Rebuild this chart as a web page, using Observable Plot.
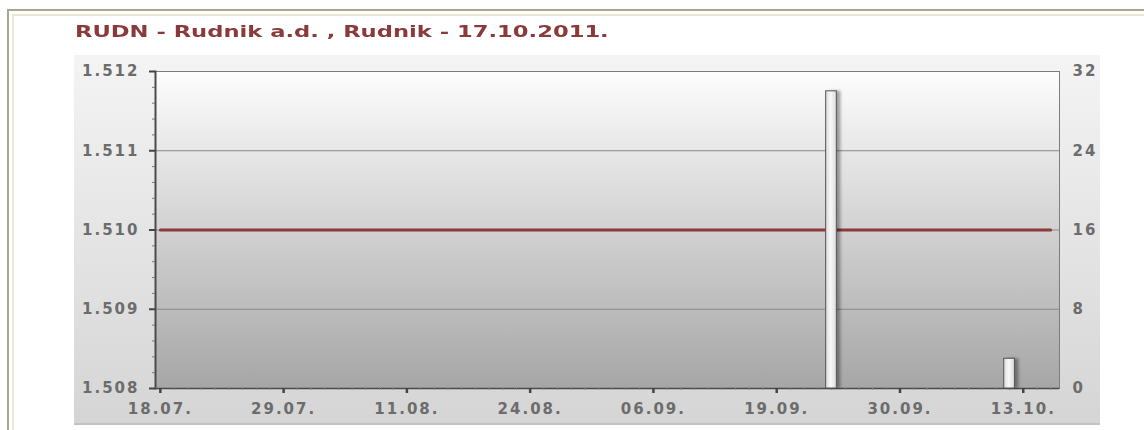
<!DOCTYPE html>
<html><head><meta charset="utf-8">
<script src="https://cdn.jsdelivr.net/npm/d3@7"></script>
<script src="https://cdn.jsdelivr.net/npm/@observablehq/plot@0.6"></script>
<style>
body{margin:0;background:#fff;}
#wrap{position:relative;width:1144px;height:430px;overflow:hidden;background:#fff;font-family:"DejaVu Sans",sans-serif;}
.b1{position:absolute;background:#aaa690;}
.b2{position:absolute;background:#ebe7d5;}
#panel{position:absolute;left:74px;top:55px;width:1026px;height:368px;background:linear-gradient(#f4f4f4,#d5d5d5);border-bottom:2px solid #c2c2c2;}
#title{position:absolute;left:75px;top:25px;font:bold 15px "DejaVu Sans";line-height:15px;color:#8a3a3a;white-space:nowrap;transform-origin:left center;}
#wrap svg{position:absolute;left:0;top:0;}
#wrap svg text{letter-spacing:2px;}
</style></head>
<body>
<div id="wrap">
  <div class="b1" style="left:7px;top:9px;width:2px;height:421px"></div>
  <div class="b1" style="left:7px;top:9px;width:1137px;height:2px"></div>
  <div class="b2" style="left:12px;top:14px;width:2px;height:416px"></div>
  <div class="b2" style="left:12px;top:14px;width:1132px;height:2px"></div>
  <div id="panel"></div>
  <div id="title"></div>
</div>
<script>
const titleText = "RUDN - Rudnik a.d. , Rudnik - 17.10.2011.";
const tradingDays = [
  "18.07.","19.07.","20.07.","21.07.","22.07.","25.07.","26.07.","27.07.","28.07.","29.07.",
  "01.08.","02.08.","03.08.","04.08.","05.08.","08.08.","09.08.","10.08.","11.08.","12.08.",
  "15.08.","16.08.","17.08.","18.08.","19.08.","22.08.","23.08.","24.08.","25.08.","26.08.",
  "29.08.","30.08.","31.08.","01.09.","02.09.","05.09.","06.09.","07.09.","08.09.","09.09.",
  "12.09.","13.09.","14.09.","15.09.","16.09.","19.09.","20.09.","21.09.","22.09.","23.09.",
  "26.09.","27.09.","28.09.","29.09.","30.09.","03.10.","04.10.","05.10.","06.10.","07.10.",
  "10.10.","11.10.","12.10.","13.10.","14.10.","17.10."
];
const prices = [
  1.510,1.510,1.510,1.510,1.510,1.510,1.510,1.510,1.510,1.510,
  1.510,1.510,1.510,1.510,1.510,1.510,1.510,1.510,1.510,1.510,
  1.510,1.510,1.510,1.510,1.510,1.510,1.510,1.510,1.510,1.510,
  1.510,1.510,1.510,1.510,1.510,1.510,1.510,1.510,1.510,1.510,
  1.510,1.510,1.510,1.510,1.510,1.510,1.510,1.510,1.510,1.510,
  1.510,1.510,1.510,1.510,1.510,1.510,1.510,1.510,1.510,1.510,
  1.510,1.510,1.510,1.510,1.510,1.510
];
const volumeDates = ["23.09.","12.10."];
const volumes = [30, 3];
const xTickLabels = ["18.07.","29.07.","11.08.","24.08.","06.09.","19.09.","30.09.","13.10."];
const priceTicks = [1.508,1.509,1.510,1.511,1.512];
const priceMinorTicks = [1.5082,1.5084,1.5086,1.5088,1.5092,1.5094,1.5096,1.5098,1.5102,1.5104,1.5106,1.5108,1.5112,1.5114,1.5116,1.5118];
const volumeTicks = [0,8,16,24,32];

const W = 1144, H = 430;
const dims = {width: W, height: H, marginLeft: 155, marginRight: 85, marginTop: 71, marginBottom: 42};
const xScale = {type: "band", domain: tradingDays, padding: 0, insetLeft: -2, insetRight: 2, axis: null};
const labelStyle = {fontSize: 15, fontWeight: "bold", fill: "#6c6c6c", fontFamily: "DejaVu Sans"};

document.getElementById("title").textContent = titleText;

const priceChart = Plot.plot({
  ...dims,
  style: {background: "transparent", fontFamily: "DejaVu Sans", overflow: "visible"},
  x: xScale,
  y: {domain: [1.508, 1.512], axis: null},
  marks: [
    Plot.frame({fill: "url(#plotBg)", stroke: "#7d7d7d"}),
    Plot.gridY(priceTicks.slice(1, -1), {stroke: "#888", strokeOpacity: 1}),
    Plot.lineY(prices, {x: tradingDays, y: prices, stroke: "#8b3a3a", strokeWidth: 3}),
    Plot.ruleY([1.508], {stroke: "#4a4a4a", strokeWidth: 1.5}),
    Plot.frame({anchor: "left", stroke: "#4a4a4a", strokeWidth: 2}),
    Plot.axisY(priceMinorTicks, {anchor: "left", tickSize: 3, stroke: "#777", tickFormat: () => ""}),
    Plot.axisY(priceTicks, {anchor: "left", tickSize: 6, tickPadding: 10, stroke: "#444", strokeWidth: 2,
      tickFormat: d3.format(".3f"), ...labelStyle}),
    Plot.axisX(tradingDays, {anchor: "bottom", tickSize: 2, stroke: "#888", tickFormat: () => ""}),
    Plot.axisX(xTickLabels, {anchor: "bottom", tickSize: 5, tickPadding: 10, stroke: "#444", strokeWidth: 2.5, ...labelStyle})
  ]
});

const volumeChart = Plot.plot({
  ...dims,
  style: {background: "transparent", fontFamily: "DejaVu Sans", overflow: "visible"},
  x: xScale,
  y: {domain: [0, 32], axis: null},
  marks: [
    Plot.barY(volumes, {x: volumeDates, y: volumes, fill: "#000", fillOpacity: 0.35, dx: 4, insetLeft: 1.5, insetRight: 1.5}),
    Plot.barY(volumes, {x: volumeDates, y: volumes, fill: "url(#barGrad)", stroke: "#555", strokeWidth: 1, insetLeft: 1.5, insetRight: 1.5}),
    Plot.axisY(volumeTicks, {anchor: "right", tickSize: 0, tickPadding: 13, ...labelStyle})
  ]
});

const wrap = document.getElementById("wrap");
wrap.appendChild(priceChart);
wrap.appendChild(volumeChart);

const defs1 = d3.select(priceChart).insert("defs", ":first-child");
const g1 = defs1.append("linearGradient").attr("id", "plotBg").attr("x1", 0).attr("x2", 0).attr("y1", 0).attr("y2", 1);
g1.append("stop").attr("offset", "0%").attr("stop-color", "#fdfdfd");
g1.append("stop").attr("offset", "100%").attr("stop-color", "#a6a6a6");

const defs2 = d3.select(volumeChart).insert("defs", ":first-child");
const g2 = defs2.append("linearGradient").attr("id", "barGrad").attr("x1", 0).attr("x2", 1).attr("y1", 0).attr("y2", 0);
g2.append("stop").attr("offset", "0%").attr("stop-color", "#d8d8d8");
g2.append("stop").attr("offset", "45%").attr("stop-color", "#f8f8f8");
g2.append("stop").attr("offset", "100%").attr("stop-color", "#dcdcdc");
const f = defs2.append("filter").attr("id", "blur").attr("x", "-50%").attr("width", "200%");
f.append("feGaussianBlur").attr("stdDeviation", 1.5);
const shadow = volumeChart.querySelector('g[aria-label="bar"]');
if (shadow) shadow.setAttribute("filter", "url(#blur)");

const t = document.getElementById("title");
t.style.transform = `scaleX(${534 / t.offsetWidth})`;
</script>
</body></html>
